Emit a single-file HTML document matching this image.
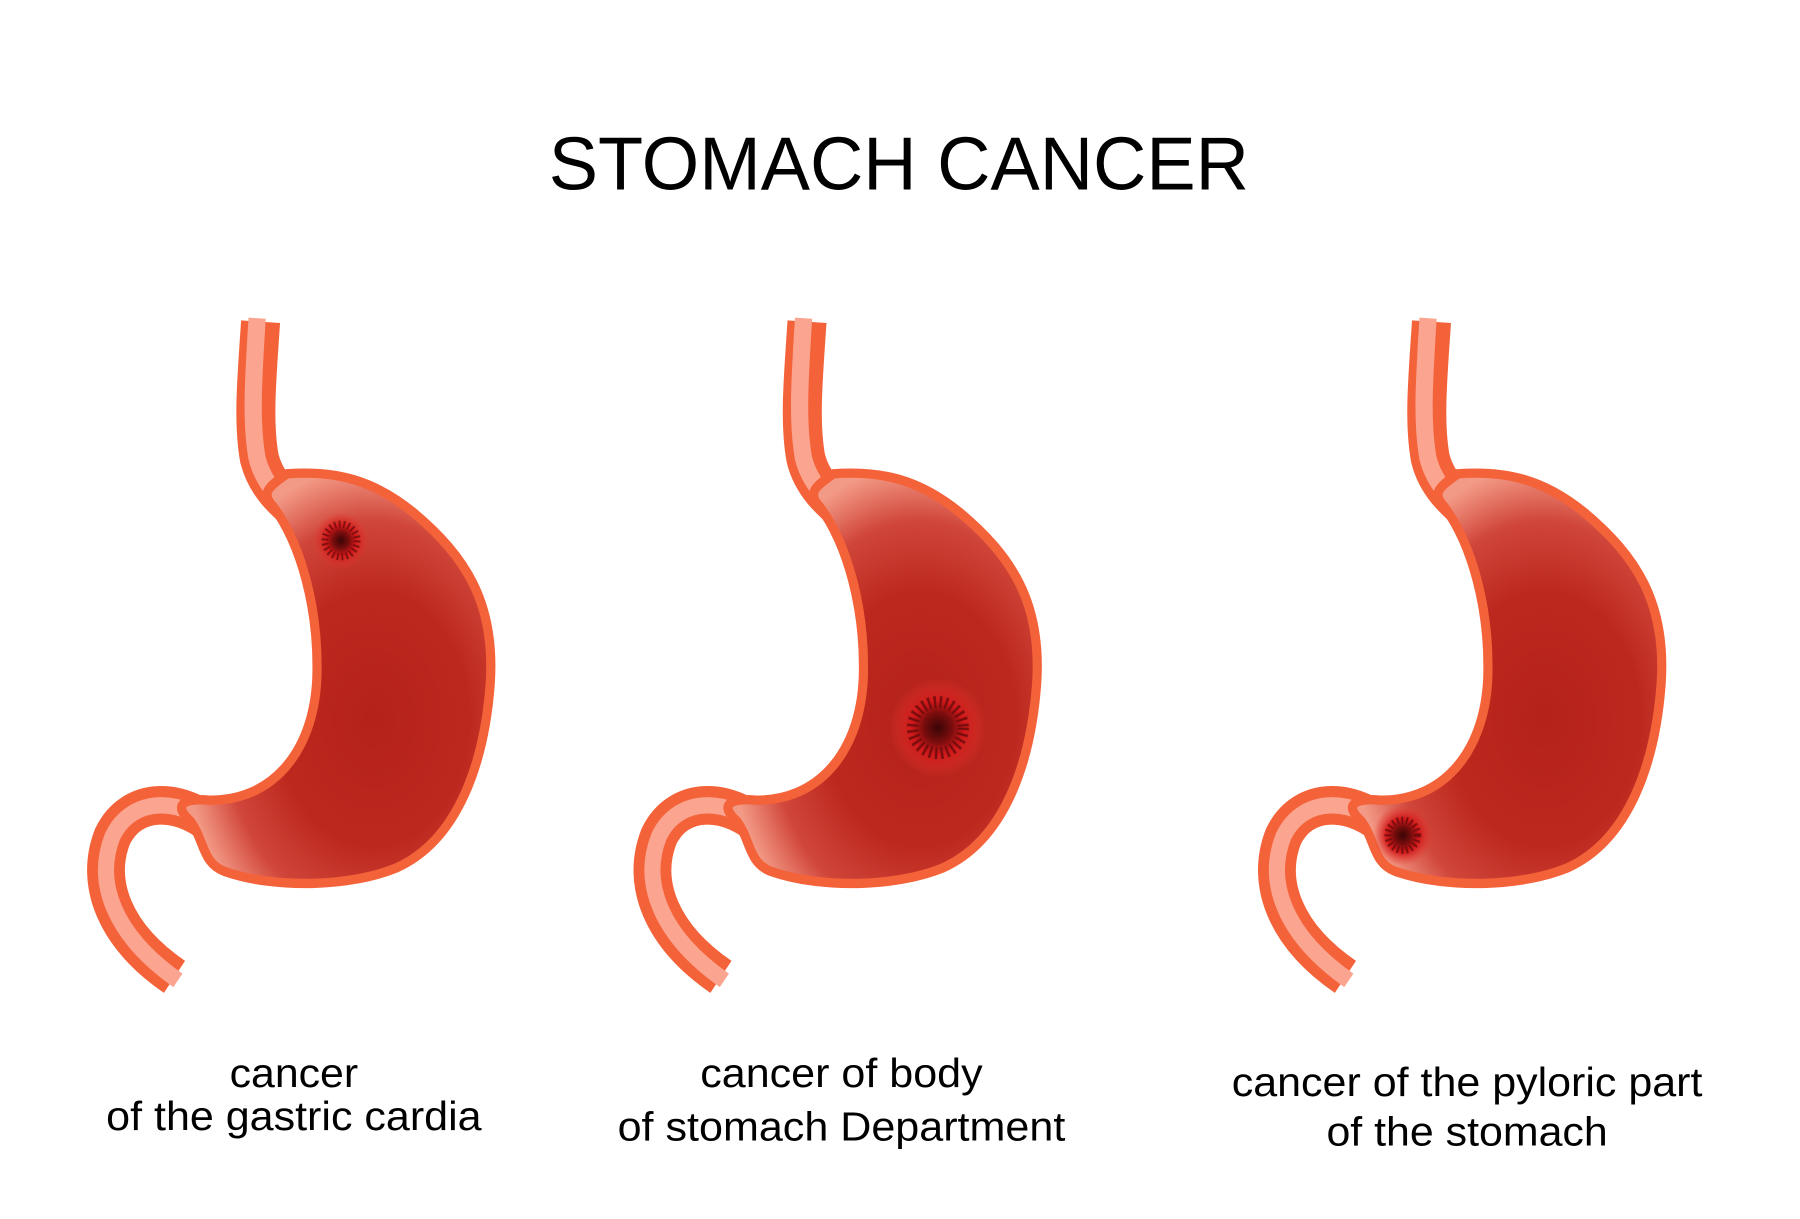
<!DOCTYPE html>
<html><head><meta charset="utf-8"><style>
html,body{margin:0;padding:0;background:#fff;width:1800px;height:1219px;overflow:hidden}
svg{display:block}
</style></head><body>
<svg width="1800" height="1219" viewBox="0 0 1568 1042" preserveAspectRatio="none" xmlns="http://www.w3.org/2000/svg">
<defs>
<radialGradient id="body" cx="0.62" cy="0.6" r="0.62">
<stop offset="0" stop-color="#b5221a"/>
<stop offset="0.5" stop-color="#bd281e"/>
<stop offset="0.78" stop-color="#d0463a"/>
<stop offset="0.93" stop-color="#e9806f"/>
<stop offset="1" stop-color="#f29a86"/>
</radialGradient>
<radialGradient id="tum">
<stop offset="0" stop-color="#3a0506"/>
<stop offset="0.3" stop-color="#7a0d0d"/>
<stop offset="0.55" stop-color="#d0181a"/>
<stop offset="1" stop-color="#e63a30" stop-opacity="0"/>
</radialGradient>
<g id="st">
<path d="M227,275 C224,320 220,360 226,392 C232,415 248,428 262,440" fill="none" stroke="#f4623a" stroke-width="34"/>
<path d="M224,272 C221,320 218,360 224,392 C230,415 246,428 260,440" fill="none" stroke="#fba48f" stroke-width="15"/>
<path d="M192,712 C160,680 115,680 98,715 C82,755 100,800 152,835" fill="none" stroke="#f4623a" stroke-width="33"/>
<path d="M192,712 C160,680 115,680 98,715 C82,755 100,800 155,838" fill="none" stroke="#fba48f" stroke-width="14"/>
<path d="M250,405 C232,417 228,422 238,433 C262,465 278,520 276,580 C273,645 235,685 182,684 C160,682 150,688 166,702 C178,718 176,738 196,745 C240,760 305,758 345,742 C400,718 422,650 427,585 C432,515 405,475 360,438 C325,410 292,402 250,405 Z" fill="url(#body)" stroke="#f4623a" stroke-width="8"/>
</g>
</defs>
<rect width="1568" height="1042" fill="#fff"/>
<use href="#st"/>
<use href="#st" x="476"/>
<use href="#st" x="1020"/>
<circle cx="297" cy="462" r="24" fill="url(#tum)"/>
<circle cx="297" cy="462" r="14" fill="none" stroke="#5a0808" stroke-width="6" stroke-dasharray="1.5 2.5" opacity="0.7"/>
<circle cx="817" cy="622" r="42" fill="url(#tum)"/>
<circle cx="817" cy="622" r="22" fill="none" stroke="#5a0808" stroke-width="10" stroke-dasharray="2 3" opacity="0.7"/>
<circle cx="1222" cy="714" r="26" fill="url(#tum)"/>
<circle cx="1222" cy="714" r="13" fill="none" stroke="#5a0808" stroke-width="6" stroke-dasharray="1.5 2.5" opacity="0.7"/>
<g font-family="Liberation Sans, Arial, sans-serif" fill="#000" text-anchor="middle">
<text x="783" y="162" font-size="64" textLength="610" lengthAdjust="spacingAndGlyphs">STOMACH CANCER</text>
<text x="256" y="929" font-size="35" textLength="112" lengthAdjust="spacingAndGlyphs">cancer</text>
<text x="256" y="966" font-size="35" textLength="327" lengthAdjust="spacingAndGlyphs">of the gastric cardia</text>
<text x="733" y="929" font-size="35" textLength="246" lengthAdjust="spacingAndGlyphs">cancer of body</text>
<text x="733" y="975" font-size="35" textLength="390" lengthAdjust="spacingAndGlyphs">of stomach Department</text>
<text x="1278" y="937" font-size="35" textLength="410" lengthAdjust="spacingAndGlyphs">cancer of the pyloric part</text>
<text x="1278" y="979" font-size="35" textLength="245" lengthAdjust="spacingAndGlyphs">of the stomach</text>
</g>
</svg>
</body></html>
